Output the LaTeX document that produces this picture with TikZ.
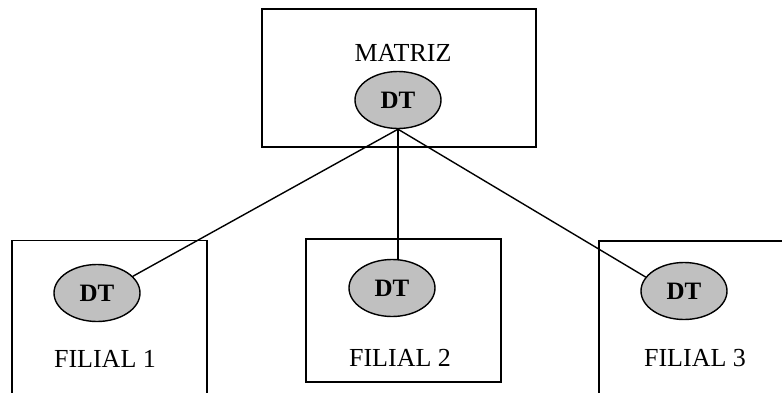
\documentclass[tikz,border=0pt]{standalone}
\usepackage{fontspec}
\setmainfont{Liberation Serif}
\usetikzlibrary{shapes.geometric}
\definecolor{dtgray}{RGB}{192,192,192}

\begin{document}
\begin{tikzpicture}[x=0.5pt, y=-0.5pt,
    unit/.style={draw, line width=0.7pt, minimum width=97.5pt, minimum height=71.5pt},
    dt/.style={ellipse, draw, line width=0.7pt, fill=dtgray, minimum width=43pt, minimum height=28.5pt, inner sep=0pt, font=\fontsize{12.5}{14}\selectfont\bfseries},
    unitname/.style={font=\fontsize{13}{15}\selectfont},
    link/.style={line width=0.7pt}
  ]
  % page frame, the lower boxes run off the edges
  \useasboundingbox (0,0) rectangle (782,392);
  \clip (0,0) rectangle (782,392);

  % head office
  \node[unit, minimum width=137pt, minimum height=69pt] (matriz) at (399,78) {};
  \node[unitname] (matriz_name) at (403,53) {MATRIZ};
  \node[dt] (dt_m) at (398,100) {DT};

  % branches
  \node[unit, minimum height=90pt] (filial1) at (109.5,330.5) {};
  \node[unit] (filial2) at (403.5,310.5) {};
  \node[unit, minimum width=100.5pt, minimum height=90pt] (filial3) at (699.5,331) {};

  \node[dt] (dt_1) at (97,293) {DT};
  \node[dt] (dt_2) at (392,288) {DT};
  \node[dt] (dt_3) at (684,291) {DT};

  \node[unitname] (name1) at (105,359) {FILIAL 1};
  \node[unitname] (name2) at (400,358) {FILIAL 2};
  \node[unitname] (name3) at (695,358) {FILIAL 3};

  % links from head office
  \draw[link] (dt_m.south) -- (dt_1.25);
  \draw[link] (dt_m.south) -- (dt_m.south |- dt_2.north);
  \draw[link] (dt_m.south) -- (dt_3.160);
\end{tikzpicture}
\end{document}
